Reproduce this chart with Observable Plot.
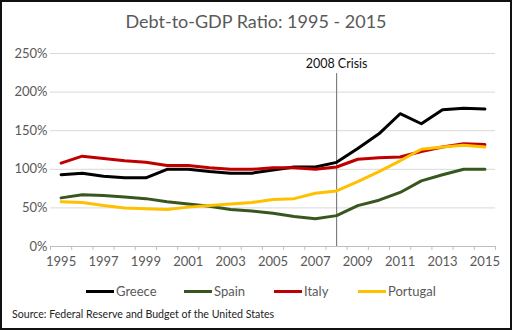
<!DOCTYPE html>
<html><head><meta charset="utf-8">
<script src="https://cdn.jsdelivr.net/npm/d3@7"></script>
<script src="https://cdn.jsdelivr.net/npm/@observablehq/plot@0.6"></script>
<style>
body{margin:0;background:#fff;}
#wrap{position:relative;width:512px;height:330px;overflow:hidden;font-family:Lato,"Open Sans",sans-serif;}
#frame{position:absolute;left:0;top:0;width:512px;height:330px;box-sizing:border-box;border:2px solid #111;pointer-events:none;}
#title{position:absolute;left:0;top:10px;width:512px;text-align:center;font-size:18px;color:#595959;}
#chart{position:absolute;left:0;top:42px;}
#legend{position:absolute;left:0;top:283px;width:512px;height:18px;font-size:13px;color:#595959;}
.li{position:absolute;top:0;display:flex;align-items:center;}
.sw{width:28px;height:3px;margin-right:2px;}
#source{position:absolute;left:12px;top:308px;font-size:10.6px;color:#222;}
</style></head>
<body>
<div id="wrap">
  <div id="title">Debt-to-GDP Ratio: 1995 - 2015</div>
  <div id="chart"></div>
  <div id="legend"></div>
  <div id="source">Source: Federal Reserve and Budget of the United States</div>
  <div id="frame"></div>
</div>
<script>
const years = d3.range(1995, 2016);
const greece   = [93,95,91,89,89,100,100,97,95,95,99,103,103,109,127,146,172,159,177,179,178];
const spain    = [63,67,66,64,62,58,55,52,48,46,43,39,36,40,53,60,70,85,93,100,100];
const italy    = [108,117,114,111,109,105,105,102,100,100,102,102,100,103,113,115,116,123,129,133,132];
const portugal = [58,57,53,50,49,48,51,53,55,57,61,62,69,72,84,97,111,126,129,131,129];
const seriesNames = ["Greece","Spain","Italy","Portugal"];
const seriesColors = ["#000000","#38571f","#c00000","#ffc000"];
const yTicks = [0,50,100,150,200,250];
const xLabelYears = years.filter(y => y % 2 === 1);
const crisisYear = 2008, crisisTop = 224, crisisLabelY = 237, crisisLabel = "2008 Crisis";

const allSeries = [greece, spain, italy, portugal];
const rows = [];
seriesNames.forEach((name, i) => years.forEach((yr, j) => rows.push({country: name, year: yr, value: allSeries[i][j]})));
const boundaries = years.map(y => y - 0.5).concat([years[years.length-1] + 0.5]);

const chart = Plot.plot({
  width: 512, height: 234,
  marginLeft: 50, marginRight: 17, marginTop: 11, marginBottom: 30,
  style: {fontFamily: "Lato, 'Open Sans', sans-serif", fontSize: "13px", color: "#595959", background: "transparent"},
  x: {domain: [years[0]-0.5, years[years.length-1]+0.5]},
  y: {domain: [0, 250]},
  color: {domain: seriesNames, range: seriesColors},
  marks: [
    Plot.ruleY(yTicks.filter(d => d > 0), {stroke: "#d9d9d9", strokeWidth: 1}),
    Plot.axisY({ticks: yTicks, tickFormat: d => d + "%", tickSize: 0, tickPadding: 3, label: null, fill: "#595959"}),
    Plot.axisX({ticks: xLabelYears, tickFormat: d => String(d), tickSize: 0, tickPadding: 10, label: null, fill: "#595959"}),
    Plot.axisX({ticks: boundaries, tickFormat: () => "", tickSize: 4, label: null, stroke: "#bfbfbf"}),
    Plot.ruleY([0], {stroke: "#bfbfbf", strokeWidth: 1}),
    Plot.ruleX([crisisYear], {y1: 0, y2: crisisTop, stroke: "#7f7f7f", strokeWidth: 1.2}),
    Plot.line(rows, {x: "year", y: "value", z: "country", stroke: "country", strokeWidth: 3, strokeLinejoin: "round"}),
    Plot.text([crisisLabel], {x: crisisYear, y: crisisLabelY, text: d => d, fill: "#111", fontSize: 12.5})
  ]
});
document.getElementById("chart").appendChild(chart);

const legendX = [86, 184, 274, 358];
const legend = document.getElementById("legend");
seriesNames.forEach((name, i) => {
  const el = document.createElement("div");
  el.className = "li";
  el.style.left = legendX[i] + "px";
  el.innerHTML = `<span class="sw" style="background:${seriesColors[i]}"></span><span>${name}</span>`;
  legend.appendChild(el);
});
</script>
</body></html>
